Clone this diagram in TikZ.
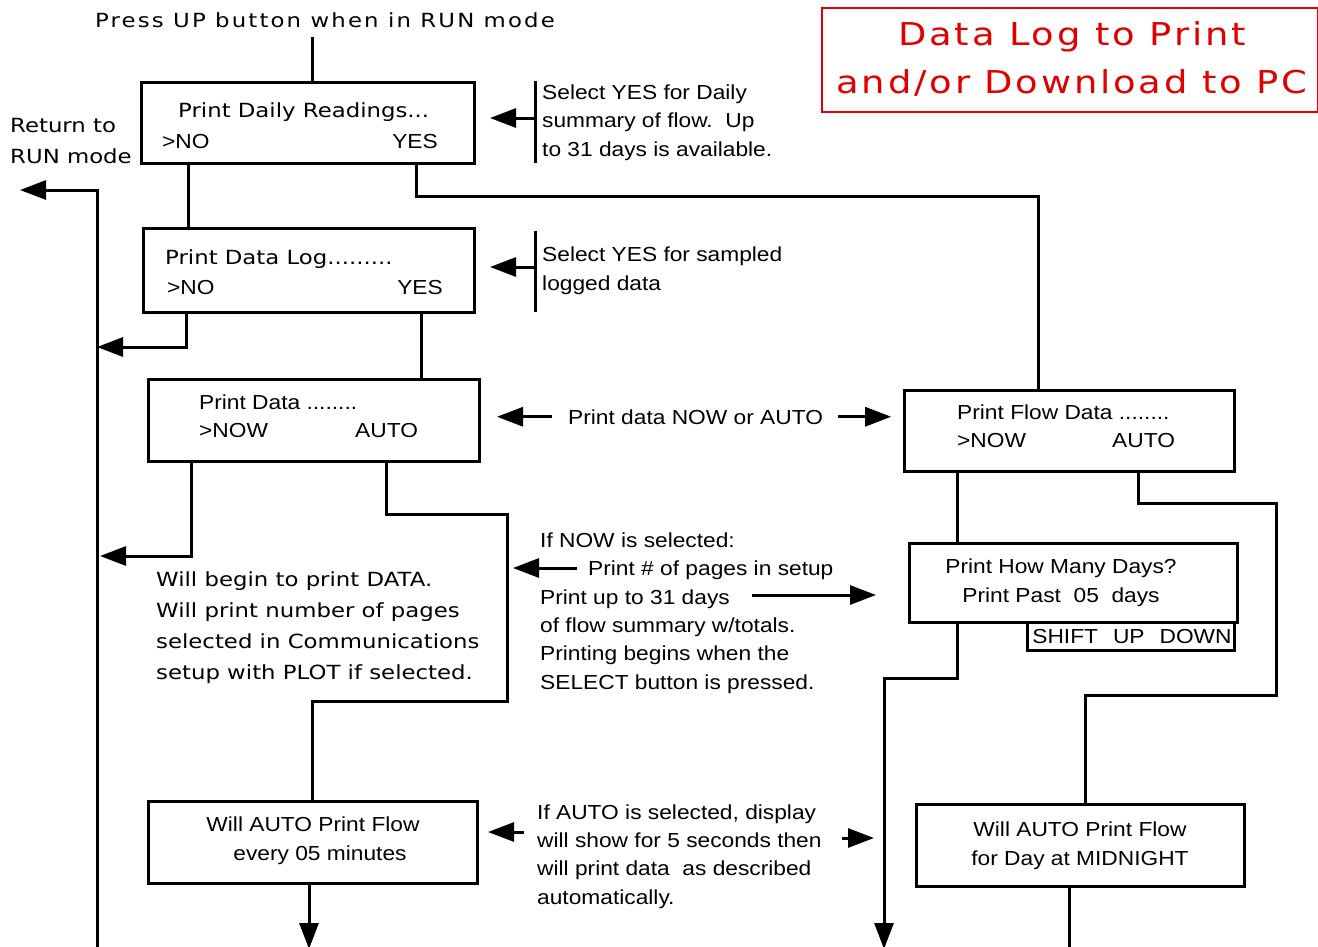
\documentclass[tikz,border=0pt]{standalone}
\usepackage{fontspec}
\usepackage{tikz}
\usetikzlibrary{arrows.meta}
\newfontfamily\vfont[FakeStretch=1.17]{DejaVu Sans}
\newfontfamily\vwide[FakeStretch=1.17,LetterSpace=11]{DejaVu Sans}
\newfontfamily\vtitle[FakeStretch=1.17,LetterSpace=9]{DejaVu Sans}
\newfontfamily\afont[FakeStretch=1.12]{Liberation Sans}
\definecolor{titlered}{HTML}{E00000}
\tikzset{%
  box/.style={draw, line width=3pt, inner sep=0pt, anchor=north west},
  wire/.style={line width=3pt},
  arr/.style={line width=3pt, -{Triangle[length=26pt,width=19pt]}},
  lcd/.style={font=\afont\fontsize{20.3pt}{28pt}\selectfont, inner sep=0pt, anchor=base west},
  lcdv/.style={font=\vfont\fontsize{19.5pt}{30.7pt}\selectfont, inner sep=0pt, anchor=base west},
  note/.style={font=\afont\fontsize{20.3pt}{28.3pt}\selectfont, inner sep=0pt, align=left, anchor=base west},
  vnote/.style={font=\vfont\fontsize{19.5pt}{30.7pt}\selectfont, inner sep=0pt, align=left, anchor=base west}
}

\begin{document}
\begin{tikzpicture}[x=1pt,y=-1pt]
\useasboundingbox (0,0) rectangle (1318,946);

% title (multi-line nodes sit on their last baseline)
\node[box, draw=titlered, line width=2pt, minimum width=496pt, minimum height=104pt] (title) at (821,7) {};
\node[font=\vtitle\fontsize{31.5pt}{48pt}\selectfont, text=titlered, align=center, inner sep=0pt, anchor=base] (titletext) at (1072,93) {Data Log to Print\\and/or Download to PC};

\node[font=\vwide\fontsize{19.5pt}{30pt}\selectfont, inner sep=0pt, anchor=base west] (press) at (95,27) {Press UP button when in RUN mode};
\node[vnote] (runmode) at (10,163) {Return to\\RUN mode};

% boxes
\node[box, minimum width=333pt, minimum height=81pt] (daily) at (140,81) {};
\node[box, minimum width=331pt, minimum height=84pt] (datalog) at (142,227) {};
\node[box, minimum width=331pt, minimum height=82pt] (pdata) at (147,378) {};
\node[box, minimum width=330pt, minimum height=81pt] (flow) at (903,389) {};
\node[box, minimum width=328pt, minimum height=79pt] (howmany) at (908,542) {};
\node[box, minimum width=207pt, minimum height=28pt] (keys) at (1026,621) {};
\node[box, minimum width=329pt, minimum height=82pt] (autoA) at (147,800) {};
\node[box, minimum width=328pt, minimum height=82pt] (autoB) at (915,803) {};

% box texts
\node[lcdv] (dailyT) at (178,117) {Print Daily Readings...};
\node[lcd] (dailyNo) at (162,148) {>NO};
\node[lcd, anchor=base east] (dailyYes) at (438,148) {YES};
\node[lcdv] (logT) at (165,264) {Print Data Log.........};
\node[lcd] (logNo) at (167,294) {>NO};
\node[lcd, anchor=base east] (logYes) at (443,294) {YES};
\node[lcd] (pdataT) at (199,409) {Print Data ........};
\node[lcd] (pdataNow) at (199,437) {>NOW};
\node[lcd] (pdataAuto) at (355,437) {AUTO};
\node[lcd] (flowT) at (957,419) {Print Flow Data ........};
\node[lcd] (flowNow) at (957,447) {>NOW};
\node[lcd] (flowAuto) at (1112,447) {AUTO};
\node[note, align=center, anchor=base] (howmanyT) at (1061,602) {Print How Many Days?\\Print Past~~05~~days};
\node[lcd, anchor=base] (keysT) at (1132,643) {SHIFT\hspace{15pt}UP\hspace{15pt}DOWN};
\node[note, align=center, anchor=base] (autoAT) at (313,860) {Will AUTO Print Flow\\\hspace*{14pt}every 05 minutes};
\node[note, align=center, anchor=base] (autoBT) at (1080,865) {Will AUTO Print Flow\\for Day at MIDNIGHT};

% notes
\node[note] (selDaily) at (542,156) {Select YES for Daily\\summary of flow.~~Up\\to 31 days is available.};
\node[note] (selLog) at (542,290) {Select YES for sampled\\logged data};
\node[note] (nowauto) at (568,424) {Print data NOW or AUTO};
\node[note] (ifnow) at (540,689) {If NOW is selected:\\\hspace*{48pt}Print \# of pages in setup\\Print up to 31 days\\of flow summary w/totals.\\Printing begins when the\\SELECT button is pressed.};
\node[vnote] (begin) at (156,679) {Will begin to print DATA.\\Will print number of pages\\selected in Communications\\setup with PLOT if selected.};
\node[note] (ifauto) at (537,904) {If AUTO is selected, display\\will show for 5 seconds then\\will print data~~as described\\automatically.};

% connectors
\draw[wire] ([xshift=172pt]daily.north west) -- ++(0,-44);
\draw[arr] (97,960) -- (97,190) -- (20,190);
\draw[wire] ([xshift=48pt]daily.south west) -- ([xshift=46pt]datalog.north west);
\draw[wire] ([xshift=276pt]daily.south west) -- ++(0,31) -| ([xshift=135pt]flow.north west);
\draw[arr] ([xshift=44pt]datalog.south west) -- ++(0,33) -- ++(-89,0);
\draw[wire] ([xshift=279pt]datalog.south west) -- ([xshift=274pt]pdata.north west);
\draw[arr] ([xshift=44pt]pdata.south west) -- ++(0,93) -- ++(-91,0);
\draw[wire] ([xshift=239pt]pdata.south west) -- ++(0,51) -- ++(121,0) -- ++(0,187) -| ([xshift=165pt]autoA.north west);
\draw[wire] ([xshift=54pt]flow.south west) -- ([xshift=49pt]howmany.north west);
\draw[wire] ([xshift=235pt]flow.south west) -- ++(0,30) -- ++(138,0) -- ++(0,192) -| ([xshift=170pt]autoB.north west);
\draw[arr] ([xshift=49pt]howmany.south west) -- ++(0,54) -- ++(-73,0) -- ++(0,271);
\draw[arr] ([xshift=162pt]autoA.south west) -- ++(0,64);
\draw[wire] ([xshift=154pt]autoB.south west) -- ++(0,80);

% note arrows
\draw[wire] (535,81) -- (535,163);
\draw[arr] (535,118) -- (490,118);
\draw[wire] (535,231) -- (535,312);
\draw[arr] (535,267) -- (490,267);
\draw[arr] ([xshift=-16pt]nowauto.west) -- ++(-55,0);
\draw[arr] ([xshift=15pt]nowauto.east) -- ++(53,0);
\draw[arr] (577,568) -- (513,568);
\draw[arr] (752,595) -- (876,595);
\draw[arr] (524,832) -- (488,832);
\draw[arr] (842,838) -- (874,838);

\end{tikzpicture}
\end{document}
